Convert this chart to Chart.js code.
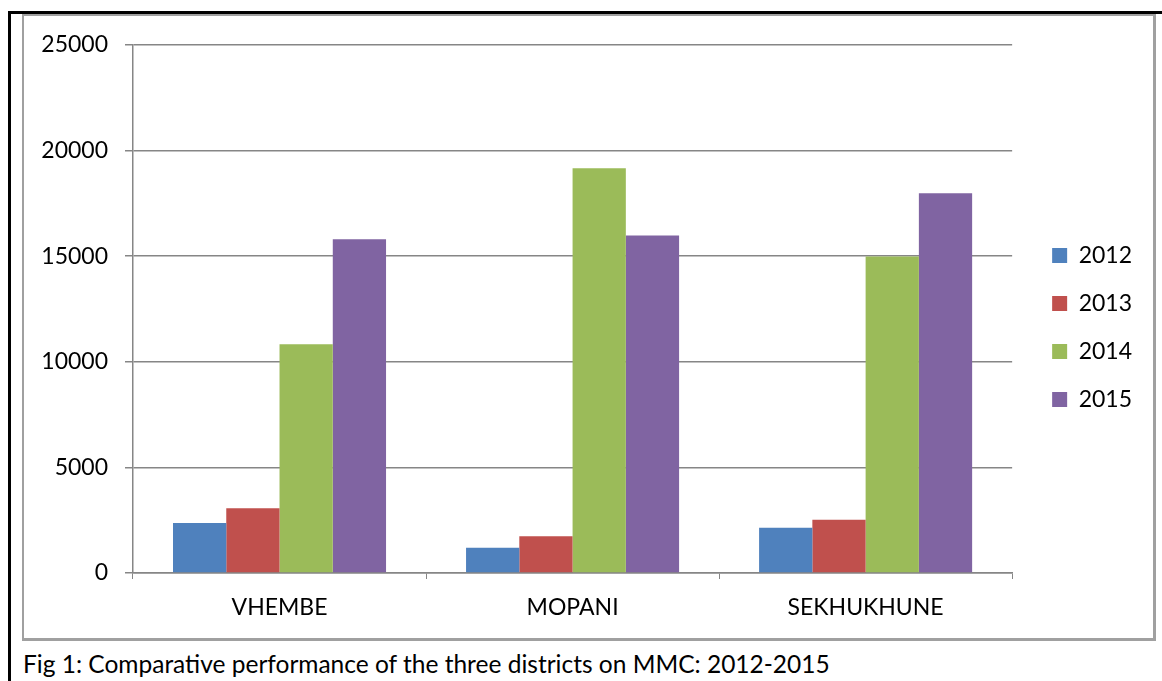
<!DOCTYPE html>
<html>
<head>
<meta charset="utf-8">
<script src="https://cdn.jsdelivr.net/npm/chart.js@4.4.1/dist/chart.umd.min.js"></script>
<style>
    html, body {
        margin: 0;
        padding: 0;
        background: #fff;
        width: 1162px;
        height: 681px;
        overflow: hidden;
        font-family: Lato, sans-serif;
    }
    .frame {
        position: absolute;
        left: 8px;
        top: 11px;
        width: 1160px;
        height: 680px;
        border-top: 3px solid #000;
        border-left: 3px solid #000;
    }
    .box {
        position: absolute;
        left: 22px;
        top: 14px;
        width: 1134px;
        height: 627px;
        box-sizing: border-box;
        border: 2px solid #a0a0a0;
        border-right-width: 3px;
        border-bottom-width: 3px;
    }
    .chart-wrap {
        position: absolute;
        left: 25px;
        top: 17px;
        width: 1128px;
        height: 621px;
    }
    .caption {
        position: absolute;
        left: 23px;
        top: 650px;
        font-size: 24.5px;
        line-height: 28px;
        color: #000;
    }
</style>
</head>
<body>
<div class="frame"></div>
<div class="box"></div>
<div class="chart-wrap"><canvas id="mmcChart"></canvas></div>
<div class="caption">Fig 1: Comparative performance of the three districts on MMC: 2012-2015</div>

<script>
// Data
const districts = ['VHEMBE', 'MOPANI', 'SEKHUKHUNE'];
const years = ['2012', '2013', '2014', '2015'];
const values2012 = [2370, 1190, 2140];
const values2013 = [3070, 1740, 2520];
const values2014 = [10830, 19170, 14980];
const values2015 = [15800, 15980, 17980];
const yTicks = [0, 5000, 10000, 15000, 20000, 25000];
const yearColors = ['#4F81BD', '#C0504D', '#9BBB59', '#8064A2'];

const FONT = { family: 'Lato, sans-serif', size: 23 };
const AXIS_GREY = '#868686';

const series = [values2012, values2013, values2014, values2015];

// invisible spacer axis, only used to reserve room around the plot
const spacer = (pos, size) => ({
    position: pos,
    display: true,
    ticks: { display: false },
    grid: { display: false },
    border: { display: false },
    afterFit(scale) {
        if (scale.isHorizontal()) scale.height = size;
        else scale.width = size;
    }
});

new Chart(document.getElementById('mmcChart'), {
    type: 'bar',
    data: {
        labels: districts,
        datasets: series.map((vals, i) => ({
            label: years[i],
            data: vals,
            backgroundColor: yearColors[i],
            borderWidth: 0,
            barPercentage: 1,
            categoryPercentage: 0.727
        }))
    },
    options: {
        responsive: true,
        maintainAspectRatio: false,
        animation: false,
        layout: {
            padding: { top: 0, left: 0, right: 11, bottom: 0 }
        },
        plugins: {
            tooltip: { enabled: false },
            legend: {
                display: true,
                position: 'right',
                labels: {
                    font: FONT,
                    color: '#000',
                    boxWidth: 15,
                    boxHeight: 15,
                    padding: 25
                }
            }
        },
        scales: {
            x: {
                offset: true,
                grid: {
                    drawOnChartArea: false,
                    drawTicks: true,
                    tickLength: 6,
                    color: AXIS_GREY,
                    lineWidth: 1
                },
                border: { color: AXIS_GREY, width: 1.5 },
                ticks: {
                    font: FONT,
                    color: '#000',
                    padding: 15,
                    maxRotation: 0
                },
                afterFit(scale) {
                    scale.height = 65;
                }
            },
            xTop: Object.assign({ type: 'category', labels: districts }, spacer('top', 28)),
            y: {
                min: yTicks[0],
                max: yTicks[yTicks.length - 1],
                grid: {
                    color: AXIS_GREY,
                    lineWidth: 1.5,
                    tickLength: 8
                },
                border: { color: AXIS_GREY, width: 1.5 },
                afterBuildTicks(scale) {
                    scale.ticks = yTicks.map(v => ({ value: v }));
                },
                ticks: {
                    font: FONT,
                    color: '#000',
                    padding: 17,
                    callback: value => String(value)
                },
                afterFit(scale) {
                    scale.width = 108;
                    // label overflow is already covered by the top spacer
                    scale.paddingTop = 0;
                    scale.paddingBottom = 0;
                }
            },
            yRight: Object.assign({ type: 'linear' }, spacer('right', 15))
        }
    }
});
</script>
</body>
</html>
